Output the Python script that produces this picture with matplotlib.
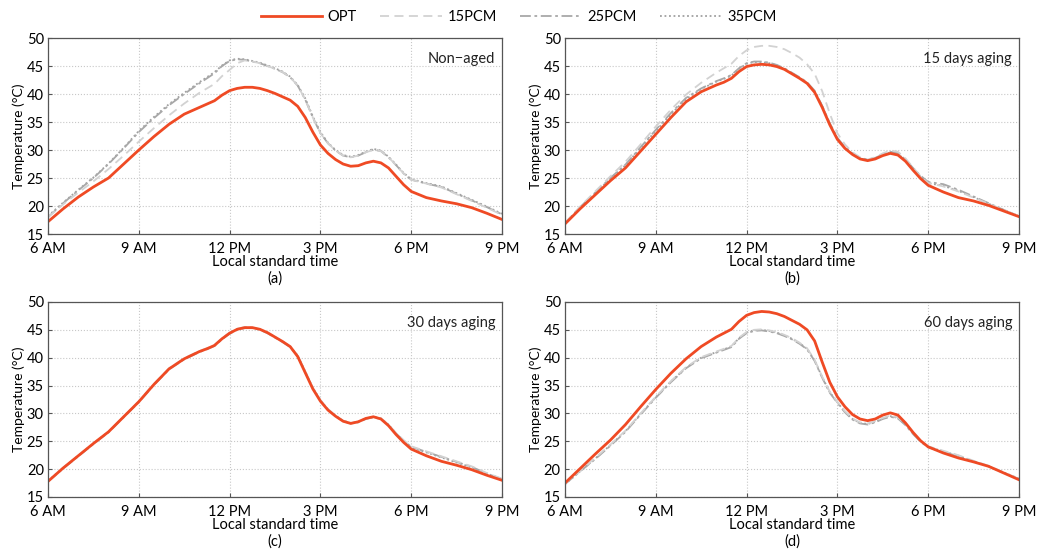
import matplotlib
matplotlib.use('Agg')
import matplotlib.pyplot as plt
import numpy as np

plt.rcParams['font.family'] = ['Lato', 'DejaVu Sans']

# time of day (h): half-hourly, quarter-hourly around the peak and afternoon bump
hours = [6, 6.5, 7, 7.5, 8, 8.5, 9, 9.5, 10, 10.5, 11,
         11.25, 11.5, 11.75, 12, 12.25, 12.5, 12.75, 13, 13.25, 13.5, 13.75, 14, 14.25, 14.5,
         14.75, 15, 15.25, 15.5, 15.75, 16, 16.25, 16.5, 16.75, 17, 17.25, 17.5, 17.75, 18,
         18.5, 19, 19.5, 20, 20.5, 21]

# (a) Non-aged
a_opt = [17.2, 19.5, 21.6, 23.4, 25.0, 27.5, 30.0, 32.4, 34.6, 36.4, 37.6,
         38.2, 38.8, 39.8, 40.6, 41.0, 41.2, 41.2, 41.0, 40.6, 40.1, 39.5, 38.9, 37.8, 35.8,
         33.2, 30.9, 29.4, 28.3, 27.5, 27.1, 27.2, 27.7, 28.0, 27.7, 26.8, 25.3, 23.8, 22.6,
         21.5, 20.9, 20.4, 19.7, 18.7, 17.6]
a_15 = [18.0, 20.3, 22.4, 24.4, 26.6, 29.0, 31.5, 33.9, 36.2, 38.3, 40.2,
        41.0, 41.8, 43.2, 44.3, 45.5, 46.0, 45.8, 45.5, 45.0, 44.5, 43.9, 43.0, 41.5, 39.0,
        35.8, 33.0, 31.2, 29.9, 29.0, 28.7, 29.0, 29.6, 30.0, 29.8, 28.7, 27.3, 25.8, 24.7,
        24.0, 23.3, 22.1, 20.9, 19.7, 18.4]
a_25 = [18.0, 20.5, 22.8, 25.0, 27.5, 30.3, 33.2, 35.7, 38.0, 40.0, 41.9,
        42.8, 43.7, 45.0, 45.9, 46.2, 46.1, 45.8, 45.5, 45.0, 44.5, 43.9, 43.0, 41.5, 39.0,
        35.8, 33.0, 31.2, 29.9, 29.0, 28.7, 29.0, 29.6, 30.1, 29.8, 28.7, 27.3, 25.8, 24.7,
        24.0, 23.4, 22.2, 21.0, 19.8, 18.5]
a_35 = [18.2, 20.6, 22.9, 25.1, 27.6, 30.4, 33.4, 35.9, 38.2, 40.2, 42.1,
        43.0, 43.9, 45.1, 46.0, 46.3, 46.2, 45.9, 45.6, 45.1, 44.6, 44.0, 43.1, 41.6, 39.2,
        36.0, 33.2, 31.3, 30.0, 29.1, 28.8, 29.1, 29.7, 30.2, 29.9, 28.8, 27.4, 25.9, 24.8,
        24.1, 23.5, 22.3, 21.1, 19.9, 18.6]

# (b) 15 days aging
b_opt = [16.8, 19.5, 22.0, 24.5, 26.8, 29.8, 32.8, 35.8, 38.6, 40.4, 41.6,
         42.1, 42.8, 44.0, 44.9, 45.2, 45.3, 45.2, 44.9, 44.4, 43.6, 42.8, 41.9, 40.3, 37.6,
         34.5, 31.9, 30.3, 29.2, 28.4, 28.1, 28.4, 29.0, 29.4, 29.1, 28.0, 26.4, 24.9, 23.7,
         22.5, 21.5, 20.9, 20.1, 19.1, 18.1]
b_15 = [17.0, 19.9, 22.6, 25.3, 27.9, 31.0, 34.2, 37.2, 39.9, 42.0, 43.8,
        44.6, 45.4, 46.8, 47.8, 48.4, 48.6, 48.6, 48.4, 48.0, 47.3, 46.5, 45.3, 43.6, 40.5,
        36.5, 33.0, 31.0, 29.6, 28.7, 28.3, 28.7, 29.4, 29.9, 29.7, 28.5, 26.9, 25.3, 24.1,
        23.5, 22.6, 21.5, 20.4, 19.3, 18.2]
b_25 = [16.9, 19.8, 22.4, 25.0, 27.4, 30.5, 33.6, 36.6, 39.3, 41.0, 42.3,
        42.8, 43.4, 44.6, 45.5, 45.8, 45.8, 45.6, 45.2, 44.6, 43.8, 43.0, 42.1, 40.6, 37.9,
        34.8, 32.2, 30.5, 29.4, 28.6, 28.3, 28.6, 29.2, 29.7, 29.4, 28.3, 26.8, 25.4, 24.3,
        23.9, 22.9, 21.7, 20.5, 19.3, 18.2]
b_35 = [16.9, 19.7, 22.3, 24.9, 27.3, 30.4, 33.4, 36.4, 39.1, 40.9, 42.2,
        42.7, 43.3, 44.5, 45.4, 45.7, 45.7, 45.5, 45.1, 44.5, 43.7, 42.9, 42.0, 40.5, 37.8,
        34.7, 32.1, 30.4, 29.3, 28.5, 28.2, 28.5, 29.1, 29.6, 29.3, 28.2, 26.7, 25.2, 24.1,
        23.6, 22.7, 21.6, 20.4, 19.3, 18.2]

# (c) 30 days aging
c_opt = [17.8, 20.2, 22.4, 24.6, 26.7, 29.4, 32.1, 35.2, 38.0, 39.8, 41.1,
         41.6, 42.2, 43.4, 44.4, 45.1, 45.4, 45.4, 45.1, 44.5, 43.7, 42.9, 42.0, 40.2, 37.3,
         34.4, 32.2, 30.6, 29.5, 28.6, 28.2, 28.5, 29.1, 29.4, 29.0, 27.8, 26.2, 24.8, 23.6,
         22.4, 21.4, 20.7, 19.9, 18.9, 18.0]
c_15 = [17.8, 20.2, 22.4, 24.6, 26.7, 29.4, 32.2, 35.3, 38.1, 39.9, 41.2,
        41.7, 42.3, 43.5, 44.5, 45.2, 45.5, 45.4, 45.1, 44.5, 43.7, 42.9, 42.0, 40.4, 37.5,
        34.6, 32.4, 30.8, 29.6, 28.7, 28.3, 28.5, 29.1, 29.4, 29.1, 28.0, 26.5, 25.2, 24.1,
        23.2, 22.3, 21.4, 20.5, 19.3, 18.3]
c_25 = [17.8, 20.1, 22.3, 24.5, 26.6, 29.3, 32.0, 35.1, 37.9, 39.7, 41.0,
        41.5, 42.1, 43.3, 44.3, 45.0, 45.3, 45.3, 45.0, 44.4, 43.6, 42.8, 41.9, 40.3, 37.4,
        34.5, 32.3, 30.7, 29.5, 28.6, 28.2, 28.4, 29.0, 29.3, 29.0, 27.9, 26.4, 25.1, 24.0,
        23.1, 22.2, 21.3, 20.4, 19.2, 18.2]
c_35 = [17.9, 20.2, 22.4, 24.6, 26.7, 29.4, 32.1, 35.2, 38.0, 39.8, 41.1,
        41.6, 42.2, 43.4, 44.4, 45.1, 45.4, 45.4, 45.1, 44.5, 43.7, 42.9, 42.0, 40.4, 37.5,
        34.6, 32.4, 30.7, 29.6, 28.7, 28.3, 28.5, 29.1, 29.4, 29.1, 28.0, 26.4, 25.0, 23.9,
        23.0, 22.1, 21.2, 20.3, 19.2, 18.2]

# (d) 60 days aging
d_opt = [17.5, 20.1, 22.7, 25.2, 28.0, 31.2, 34.3, 37.2, 39.8, 42.0, 43.7,
         44.4, 45.1, 46.5, 47.6, 48.1, 48.3, 48.2, 47.9, 47.4, 46.7, 46.0, 45.0, 43.0, 39.2,
         35.6, 33.0, 31.2, 29.8, 29.0, 28.7, 29.0, 29.7, 30.1, 29.7, 28.3, 26.6, 25.1, 24.0,
         22.9, 22.0, 21.3, 20.5, 19.3, 18.1]
d_15 = [17.4, 19.7, 22.0, 24.4, 26.9, 30.0, 33.0, 35.8, 38.3, 40.1, 41.1,
        41.6, 42.1, 43.6, 44.6, 45.0, 45.1, 44.9, 44.6, 44.1, 43.5, 42.7, 41.7, 39.6, 36.6,
        33.9, 32.1, 30.4, 29.1, 28.4, 28.2, 28.6, 29.2, 29.6, 29.3, 28.1, 26.5, 25.1, 24.1,
        23.3, 22.5, 21.5, 20.6, 19.4, 18.3]
d_25 = [17.3, 19.6, 21.8, 24.2, 26.7, 29.8, 32.8, 35.6, 38.1, 39.9, 40.9,
        41.4, 41.9, 43.4, 44.4, 44.8, 44.9, 44.7, 44.4, 43.9, 43.3, 42.5, 41.5, 39.4, 36.4,
        33.7, 31.9, 30.2, 28.9, 28.2, 28.0, 28.4, 29.0, 29.4, 29.1, 27.9, 26.3, 24.9, 23.9,
        23.1, 22.3, 21.4, 20.5, 19.3, 18.2]
d_35 = [17.3, 19.6, 21.9, 24.3, 26.8, 29.9, 32.9, 35.7, 38.2, 40.0, 41.0,
        41.5, 42.0, 43.5, 44.5, 44.9, 45.0, 44.8, 44.5, 44.0, 43.4, 42.6, 41.6, 39.5, 36.5,
        33.8, 32.0, 30.3, 29.0, 28.3, 28.1, 28.5, 29.1, 29.5, 29.2, 28.0, 26.4, 25.0, 24.0,
        23.2, 22.4, 21.4, 20.5, 19.4, 18.3]

panels = [
    ('Non\u2212aged', '(a)', a_opt, a_15, a_25, a_35),
    ('15 days aging', '(b)', b_opt, b_15, b_25, b_35),
    ('30 days aging', '(c)', c_opt, c_15, c_25, c_35),
    ('60 days aging', '(d)', d_opt, d_15, d_25, d_35),
]

xticks = [6, 9, 12, 15, 18, 21]
xticklabels = ['6 AM', '9 AM', '12 PM', '3 PM', '6 PM', '9 PM']
yticks = [15, 20, 25, 30, 35, 40, 45, 50]

fig = plt.figure(figsize=(10.37, 5.54), dpi=100)
positions = [
    [0.0463, 0.5776, 0.4378, 0.3538],
    [0.5448, 0.5776, 0.4378, 0.3538],
    [0.0463, 0.1029, 0.4378, 0.3520],
    [0.5448, 0.1029, 0.4378, 0.3520],
]

red = '#ef4a24'
for pos, (note, tag, opt, p15, p25, p35) in zip(positions, panels):
    ax = fig.add_axes(pos)
    l35, = ax.plot(hours, p35, color='#a0a0a0', ls=(0, (1, 1.5)), lw=1.3, label='35PCM')
    l25, = ax.plot(hours, p25, color='#a8a8a8', ls=(0, (6, 2, 1.5, 2)), lw=1.3, label='25PCM')
    l15, = ax.plot(hours, p15, color='#d2d2d2', ls=(0, (5, 3)), lw=1.3, label='15PCM')
    lopt, = ax.plot(hours, opt, color=red, lw=2.0, label='OPT')
    ax.set_xlim(6, 21)
    ax.set_ylim(15, 50)
    ax.set_xticks(xticks)
    ax.set_xticklabels(xticklabels)
    ax.set_yticks(yticks)
    ax.grid(True, color='#c8c8c8', ls=':', lw=0.8)
    ax.tick_params(direction='in', labelsize=10.5, length=3, color='#555555')
    ax.tick_params(axis='x', pad=6)
    ax.tick_params(axis='y', pad=3)
    for s in ax.spines.values():
        s.set_color('#555555')
        s.set_linewidth(0.9)
    ax.set_ylabel('Temperature (\u00b0C)', fontsize=10, labelpad=1)
    ax.set_xlabel('Local standard time\n' + tag, fontsize=10.5, labelpad=-1, linespacing=1.25)
    ax.text(0.985, 0.93, note, transform=ax.transAxes, ha='right', va='top', fontsize=10.5,
            color='#222222')

fig.legend([lopt, l15, l25, l35], ['OPT', '15PCM', '25PCM', '35PCM'], loc='upper center',
           bbox_to_anchor=(0.5, 1.005), ncol=4, frameon=False, fontsize=10.5, handlelength=4.2,
           columnspacing=1.6, handletextpad=0.4)

fig.savefig('out.png', dpi=100)
